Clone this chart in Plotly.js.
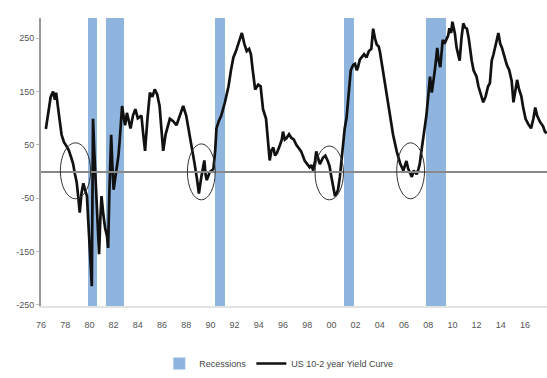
<!DOCTYPE html>
<html>
<head>
<meta charset="utf-8">
<script src="https://cdn.plot.ly/plotly-3.0.1.min.js"></script>
<style>html,body{margin:0;padding:0;background:#fff;}#chart{width:547px;height:378px;}</style>
</head>
<body>
<div id="chart"></div>
<script>
// US 10-2 year yield curve (bp)
const curveYears = [
1976.4,1976.6,1976.8,1977.0,1977.15,1977.25,1977.4,1977.55,1977.7,1977.9,
1978.1,1978.3,1978.5,1978.65,1978.8,1978.95,1979.1,1979.2,1979.35,1979.5,
1979.65,1979.8,1979.9,1980.0,1980.1,1980.2,1980.25,1980.3,1980.4,1980.5,
1980.6,1980.7,1980.8,1980.9,1981.0,1981.15,1981.3,1981.45,1981.55,1981.65,
1981.8,1981.9,1982.0,1982.15,1982.3,1982.4,1982.5,1982.6,1982.7,1982.85,
1982.95,1983.1,1983.25,1983.4,1983.6,1983.8,1984.0,1984.3,1984.45,1984.6,
1984.8,1985.0,1985.2,1985.4,1985.6,1985.8,1985.95,1986.1,1986.3,1986.5,
1986.65,1986.9,1987.2,1987.4,1987.6,1987.75,1988.0,1988.2,1988.45,1988.7,
1988.9,1989.05,1989.25,1989.4,1989.5,1989.6,1989.7,1989.95,1990.25,1990.4,
1990.5,1990.7,1990.9,1991.2,1991.5,1991.7,1991.9,1992.1,1992.3,1992.45,
1992.6,1992.8,1993.0,1993.2,1993.35,1993.5,1993.7,1993.95,1994.15,1994.35,
1994.6,1994.75,1994.9,1995.05,1995.2,1995.35,1995.5,1995.75,1995.9,1996.0,
1996.15,1996.3,1996.5,1996.7,1996.9,1997.1,1997.3,1997.5,1997.8,1998.0,
1998.2,1998.35,1998.5,1998.65,1998.75,1998.9,1999.05,1999.3,1999.5,1999.7,
1999.85,2000.0,2000.15,2000.3,2000.45,2000.55,2000.7,2000.8,2000.95,2001.1,
2001.25,2001.35,2001.5,2001.6,2001.8,2001.95,2002.1,2002.2,2002.35,2002.5,
2002.7,2002.9,2003.1,2003.3,2003.45,2003.6,2003.75,2003.9,2004.0,2004.15,
2004.3,2004.55,2004.85,2005.1,2005.4,2005.7,2005.95,2006.1,2006.2,2006.35,
2006.5,2006.65,2006.8,2006.95,2007.05,2007.2,2007.3,2007.45,2007.6,2007.75,
2007.85,2008.0,2008.15,2008.3,2008.45,2008.55,2008.75,2008.85,2009.0,2009.2,
2009.35,2009.5,2009.65,2009.75,2009.9,2010.0,2010.2,2010.35,2010.5,2010.6,
2010.75,2010.9,2011.05,2011.2,2011.35,2011.45,2011.6,2011.75,2011.9,2012.0,
2012.15,2012.3,2012.45,2012.55,2012.75,2012.95,2013.1,2013.25,2013.4,2013.5,
2013.65,2013.8,2013.95,2014.1,2014.3,2014.5,2014.7,2014.9,2015.05,2015.2,
2015.35,2015.5,2015.7,2015.85,2016.05,2016.25,2016.5,2016.7,2016.85,2017.0,
2017.25,2017.5,2017.65,2017.8
];
const curveValues = [
80,110,140,150,135,148,117,95,69,55,
48,40,26,15,-4,-20,-52,-77,-40,-22,
-35,-46,-90,-137,-180,-215,-60,99,40,-10,
-34,-100,-155,-90,-46,-80,-106,-120,-143,-40,
69,10,-34,-10,14,30,57,100,123,100,
87,110,95,81,105,117,100,105,70,39,
100,148,140,154,145,123,80,39,70,90,
99,95,87,100,115,123,105,80,50,14,
-15,-41,-10,5,21,-5,-16,-1,5,40,
81,95,105,130,160,190,214,225,239,250,
260,240,226,230,220,190,154,163,160,117,
99,60,21,40,45,30,35,50,60,75,
60,63,70,63,60,50,45,38,20,15,
8,12,2,20,38,25,14,26,30,20,
10,-10,-30,-46,-40,-34,-10,14,50,81,
100,123,160,190,200,202,190,196,210,214,
220,214,226,230,268,250,238,235,226,205,
184,141,105,69,38,14,2,12,20,5,
-4,-10,2,-3,-5,5,14,40,63,85,
105,140,178,148,170,190,232,210,196,247,
240,247,255,269,260,281,260,232,215,208,
250,278,270,268,250,232,208,190,184,178,
160,148,135,130,141,160,166,208,220,232,
245,260,240,232,215,200,190,170,130,148,
172,155,141,120,99,90,81,100,120,105,
93,85,75,72
];

// Recessions (start / end, decimal years)
const recessionStart = [1979.9, 1981.4, 1990.4, 2001.05, 2007.85];
const recessionEnd   = [1980.6, 1982.9, 1991.2, 2001.9, 2009.5];

// Circled inversions (x0, x1 in years; y0, y1 in bp)
const circleX0 = [1977.6, 1988.1, 1998.65, 2005.4];
const circleX1 = [1980.1, 1990.4, 2001.0, 2007.7];
const circleY0 = [-51, -53, -53, -51];
const circleY1 = [54, 52, 48, 54];

// Axis ticks
const xTickVals = [1976,1978,1980,1982,1984,1986,1988,1990,1992,1994,1996,1998,2000,2002,2004,2006,2008,2010,2012,2014,2016];
const xTickText = ['76','78','80','82','84','86','88','90','92','94','96','98','00','02','04','06','08','10','12','14','16'];
const yTickVals = [250,150,50,-50,-150,-250];
const yTickText = ['250','150','50','-50','-150','-250'];

const Y_MIN = -252, Y_MAX = 288;

const recMid = recessionStart.map((s,i)=> (s + recessionEnd[i]) / 2);
const recWidth = recessionStart.map((s,i)=> recessionEnd[i] - s);

const traces = [
  {
    type: 'bar',
    name: 'Recessions',
    x: recMid,
    y: recMid.map(()=> Y_MAX - Y_MIN),
    base: recMid.map(()=> Y_MIN),
    width: recWidth,
    marker: {color: '#8fb5df', line: {width: 0}},
    hoverinfo: 'skip'
  },
  {
    type: 'scatter',
    mode: 'lines',
    name: 'US 10-2 year Yield Curve',
    x: curveYears,
    y: curveValues,
    line: {color: '#111111', width: 2.7}
  }
];

const shapes = circleX0.map((x0,i)=>({
  type: 'circle', xref: 'x', yref: 'y',
  x0: x0, x1: circleX1[i], y0: circleY0[i], y1: circleY1[i],
  line: {color: '#333', width: 1}
}));

const layout = {
  width: 547, height: 378,
  margin: {l: 41, r: 0, t: 18, b: 68},
  paper_bgcolor: '#ffffff',
  plot_bgcolor: '#ffffff',
  font: {family: 'Liberation Sans, Arial, sans-serif', size: 9, color: '#555'},
  showlegend: true,
  bargap: 0,
  xaxis: {
    range: [1976, 2017.82],
    tickmode: 'array', tickvals: xTickVals, ticktext: xTickText,
    showgrid: false, zeroline: false,
    showline: true, linecolor: '#e2e2e2', linewidth: 2,
    ticks: '', ticklabelstandoff: 9,
    tickfont: {size: 9, color: '#555'}
  },
  yaxis: {
    range: [Y_MIN, Y_MAX],
    tickmode: 'array', tickvals: yTickVals, ticktext: yTickText,
    showgrid: false,
    zeroline: true, zerolinecolor: '#888', zerolinewidth: 2,
    zerolinelayer: 'above traces',
    showline: true, linecolor: '#999', linewidth: 2,
    ticks: 'outside', ticklen: 3, tickcolor: '#bbb',
    tickfont: {size: 9, color: '#555'}
  },
  legend: {
    orientation: 'h',
    x: 0.47, xanchor: 'center',
    y: -0.2, yanchor: 'middle',
    font: {size: 9, color: '#444'},
    itemwidth: 30,
    bgcolor: 'rgba(0,0,0,0)'
  },
  shapes: shapes
};

Plotly.newPlot('chart', traces, layout, {displayModeBar: false, staticPlot: true});
</script>
</body>
</html>
